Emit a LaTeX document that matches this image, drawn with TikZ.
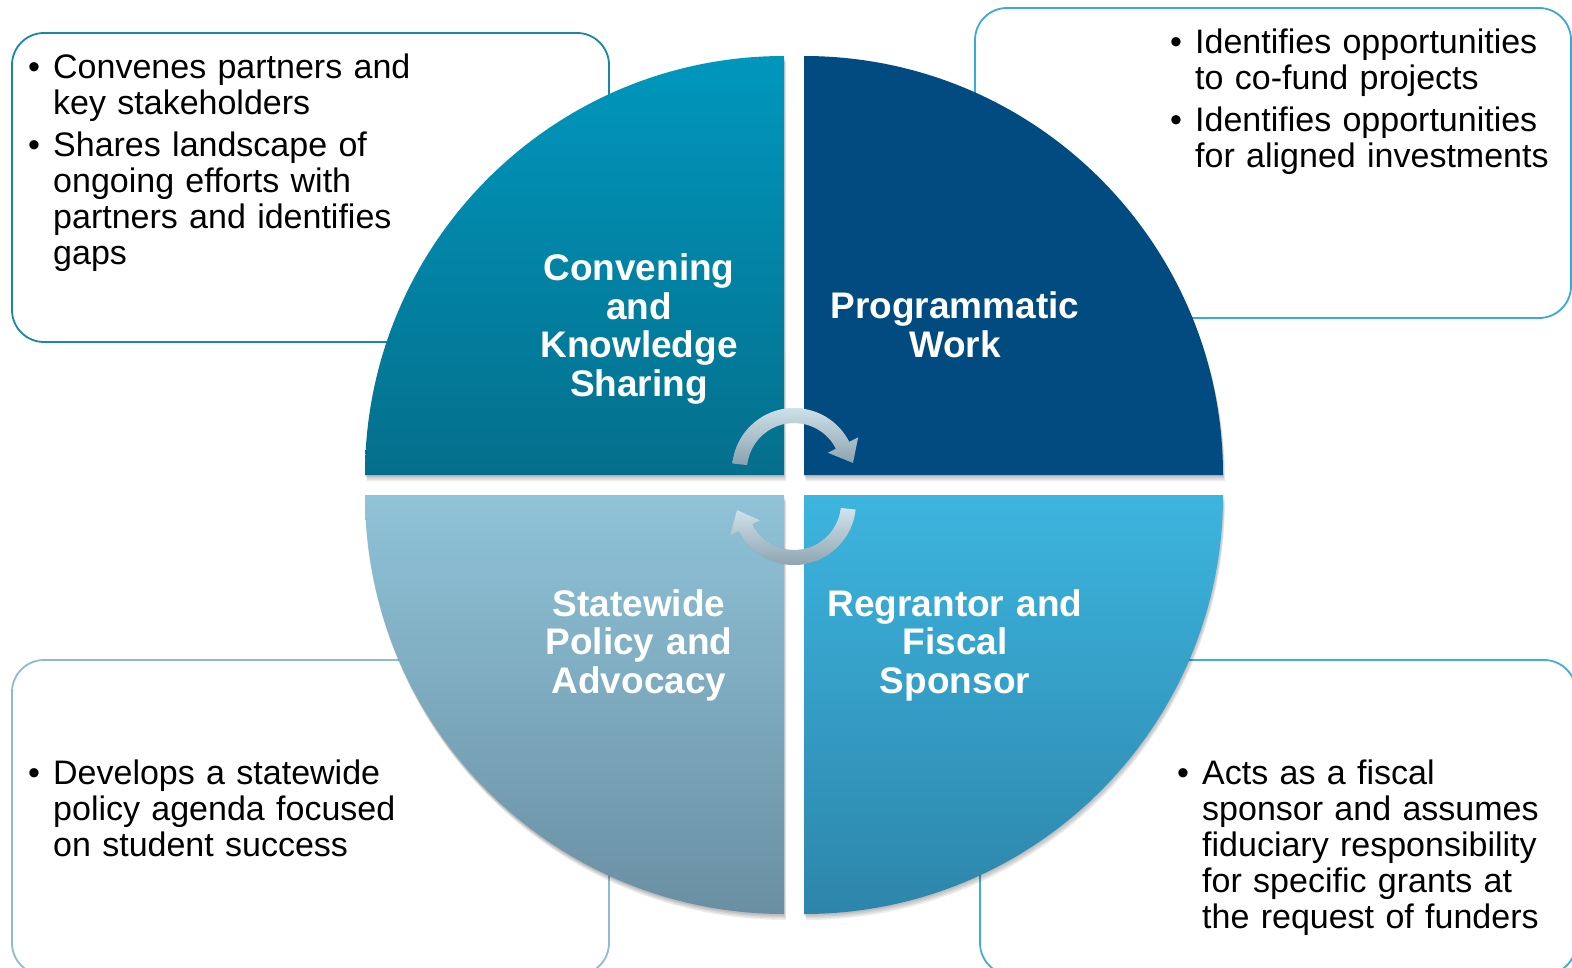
\documentclass[tikz,border=0pt]{standalone}
\usepackage{fontspec}
\setmainfont{Liberation Sans}
\usetikzlibrary{calc}
\definecolor{tlTop}{HTML}{0097BD}
\definecolor{tlBot}{HTML}{046F8C}
\definecolor{trFill}{HTML}{024B81}
\definecolor{blTop}{HTML}{8FC3D8}
\definecolor{blBot}{HTML}{6A8FA2}
\definecolor{brTop}{HTML}{3CB5DF}
\definecolor{brBot}{HTML}{2D85AA}
\definecolor{tlLine}{HTML}{1A87A3}
\definecolor{trLine}{HTML}{3AABD6}
\definecolor{blLine}{HTML}{8DBBD0}
\definecolor{brLine}{HTML}{45ADD5}
\definecolor{arrTop}{HTML}{D2E3EC}
\definecolor{arrBot}{HTML}{8AA2AE}
\newcommand{\bitem}[1]{\hangindent=25pt\hangafter=1\noindent\makebox[25pt][l]{\textbullet}{\let\\\newline #1}\par}
\newcommand{\qTL}{(784,475) -- (365,475) arc[start angle=180,end angle=270,radius=419] -- cycle}
\newcommand{\qTR}{(804,475) -- (804,56) arc[start angle=270,end angle=360,radius=419] -- cycle}
\newcommand{\qBR}{(804,495) -- (1223,495) arc[start angle=0,end angle=90,radius=419] -- cycle}
\newcommand{\qBL}{(784,495) -- (784,914) arc[start angle=90,end angle=180,radius=419] -- cycle}
\begin{document}
\begin{tikzpicture}[x=1pt,y=-1pt,
  infobox/.style={line width=1.8pt, rounded corners=32pt},
  body/.style={text width=520pt, inner sep=0pt, anchor=base west, text=black,
    font=\fontsize{34}{36}\selectfont},
  qlabel/.style={text=white, font=\bfseries\fontsize{37}{38.5}\selectfont,
    align=center, text width=340pt, inner sep=0pt, anchor=base},
  shadowlayer/.style={fill=black, fill opacity=0.07},
  arrowfill/.style={top color=arrTop, bottom color=arrBot, draw=none},
  arrowshadow/.style={fill=black, fill opacity=0.12}]
\useasboundingbox (0,0) rectangle (1572,968);
\fill[white] (0,0) rectangle (1572,968);

% outline boxes
\draw[infobox, draw=tlLine] (12,33) rectangle (609,342);
\draw[infobox, draw=trLine] (975,8) rectangle (1571,318);
\draw[infobox, draw=blLine] (12,660) rectangle (609,975);
\draw[infobox, draw=brLine] (980,660) rectangle (1576,975);

% soft shadows of the quadrants
\foreach \dx/\dy in {0/1.5, 1/3, 1.5/4.5, 2/6}{
  \begin{scope}[shift={(\dx,\dy)}]
    \fill[shadowlayer] \qTL; \fill[shadowlayer] \qTR;
    \fill[shadowlayer] \qBL; \fill[shadowlayer] \qBR;
  \end{scope}
}

% quadrants
\shade[top color=tlTop, bottom color=tlBot] \qTL;
\fill[trFill] \qTR;
\shade[top color=blTop, bottom color=blBot] \qBL;
\shade[top color=brTop, bottom color=brBot] \qBR;

% quadrant labels
\node[qlabel] (conv) at (639,281) {Convening\\and\\Knowledge\\Sharing};
\node[qlabel] (prog) at (955,319) {Programmatic\\Work};
\node[qlabel] (state) at (639,616) {Statewide\\Policy and\\Advocacy};
\node[qlabel] (regr) at (955,616) {Regrantor and\\Fiscal\\Sponsor};

% cycle arrows
\coordinate (c1) at (794,470);
\coordinate (c2) at (794,503);
\coordinate (tip1) at (853,463);
\coordinate (tip2) at (737,510);
\foreach \sx/\sy/\st in {3/4/arrowshadow, 0/0/arrowfill}{
  \begin{scope}[shift={(\sx,\sy)}]
  \path[\st] ([shift={(186:47)}]c1) -- ([shift={(186:62)}]c1)
    arc[start angle=186,end angle=333,radius=62]
    -- ([shift={(333:72)}]c1) -- (tip1) -- ([shift={(333:38)}]c1)
    -- ([shift={(333:47)}]c1) arc[start angle=333,end angle=186,radius=47] -- cycle;
  \path[\st] ([shift={(6:47)}]c2) -- ([shift={(6:62)}]c2)
    arc[start angle=6,end angle=153,radius=62]
    -- ([shift={(153:72)}]c2) -- (tip2) -- ([shift={(153:38)}]c2)
    -- ([shift={(153:47)}]c2) arc[start angle=153,end angle=6,radius=47] -- cycle;
  \end{scope}
}

% bullet texts
\node[body] (tltext) at (28,79) {\raggedright
  \bitem{Convenes partners and\\key stakeholders}\vspace{6pt}
  \bitem{Shares landscape of\\ongoing efforts with\\partners and identifies\\gaps}};
\node[body] (trtext) at (1170,54) {\raggedright
  \bitem{Identifies opportunities\\to co-fund projects}\vspace{6pt}
  \bitem{Identifies opportunities\\for aligned investments}};
\node[body] (bltext) at (28,784) {\raggedright
  \bitem{Develops a statewide\\policy agenda focused\\on student success}};
\node[body] (brtext) at (1177,784) {\raggedright
  \bitem{Acts as a fiscal\\sponsor and assumes\\fiduciary responsibility\\for specific grants at\\the request of funders}};
\end{tikzpicture}
\end{document}
